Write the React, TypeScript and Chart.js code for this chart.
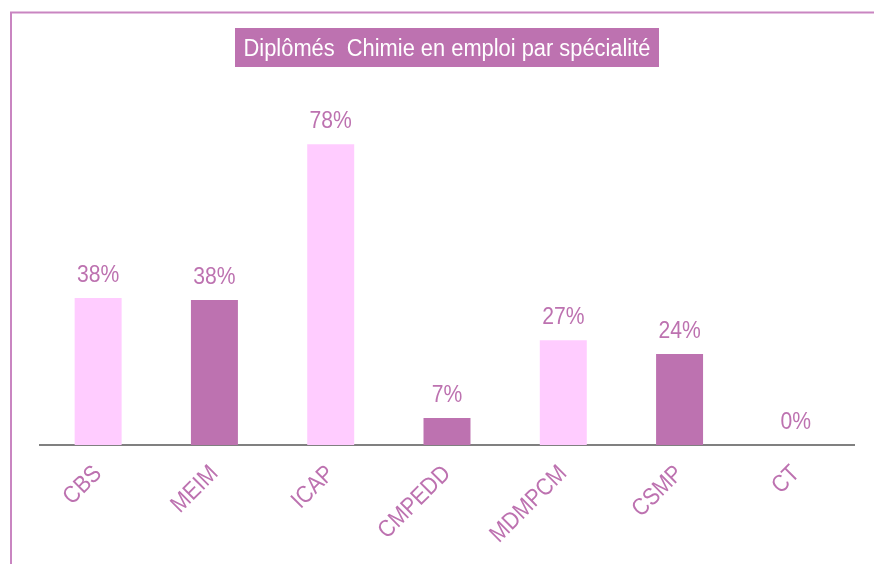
import React, { useEffect, useRef } from "react";
import { Chart, registerables } from "chart.js";

Chart.register(...registerables);

const categories = ["CBS", "MEIM", "ICAP", "CMPEDD", "MDMPCM", "CSMP", "CT"];
const values = [38.1, 37.6, 78.0, 7.0, 27.2, 23.6, 0];
const barColors = ["#FFCCFF", "#BD72B0", "#FFCCFF", "#BD72B0", "#FFCCFF", "#BD72B0", "#FFCCFF"];
const title = "Diplômés  Chimie en emploi par spécialité";

const W = 874;
const H = 564;
const FONT = '"Liberation Sans", Arial, sans-serif';
const TEXT_COLOR = "#BD72B0";

const decorPlugin = {
  id: "decor",
  beforeDraw(chart: any) {
    const ctx = chart.ctx;
    ctx.save();
    ctx.fillStyle = "#ffffff";
    ctx.fillRect(0, 0, W, H);
    // frame lines
    ctx.strokeStyle = "#C985C1";
    ctx.lineWidth = 2;
    ctx.beginPath();
    ctx.moveTo(11, H);
    ctx.lineTo(11, 12.5);
    ctx.lineTo(W, 12.5);
    ctx.stroke();
    // title box
    ctx.fillStyle = "#BD72B0";
    ctx.fillRect(235, 28, 424, 39);
    ctx.fillStyle = "#ffffff";
    ctx.font = `23px ${FONT}`;
    ctx.textAlign = "center";
    ctx.textBaseline = "alphabetic";
    ctx.translate(447, 56);
    ctx.scale(0.95, 1);
    ctx.fillText(title, 0, 0);
    ctx.restore();
  },
  afterDatasetsDraw(chart: any) {
    const ctx = chart.ctx;
    const meta = chart.getDatasetMeta(0);
    ctx.save();
    ctx.fillStyle = TEXT_COLOR;
    ctx.font = `24px ${FONT}`;
    ctx.textAlign = "center";
    ctx.textBaseline = "alphabetic";
    meta.data.forEach((bar: any, i: number) => {
      const v = values[i];
      ctx.save();
      ctx.translate(bar.x, bar.y - 16);
      ctx.scale(0.88, 1);
      ctx.fillText(Math.round(v) + "%", 0, 0);
      ctx.restore();
    });
    // x tick labels
    const xs = chart.scales.x;
    ctx.textAlign = "right";
    ctx.textBaseline = "middle";
    categories.forEach((c, i) => {
      const x = xs.getPixelForTick(i);
      ctx.save();
      ctx.translate(x, 470);
      ctx.rotate(-Math.PI / 4);
      ctx.scale(0.88, 1);
      ctx.fillText(c, 0, 0);
      ctx.restore();
    });
    ctx.restore();
  },
};

export default function App() {
  const ref = useRef<HTMLCanvasElement>(null);
  useEffect(() => {
    if (!ref.current) return;
    const chart = new Chart(ref.current, {
      type: "bar",
      data: {
        labels: categories,
        datasets: [
          {
            data: values,
            backgroundColor: barColors,
            borderWidth: 0,
            categoryPercentage: 1,
            barPercentage: 0.404,
          },
        ],
      },
      options: {
        responsive: false,
        animation: false,
        devicePixelRatio: 1,
        layout: { padding: { left: 40, right: 20, top: 98, bottom: 0 } },
        plugins: { legend: { display: false }, tooltip: { enabled: false }, title: { display: false } },
        scales: {
          x: {
            grid: { display: false },
            border: { display: true, color: "#808080", width: 2 },
            ticks: { display: false },
            afterFit: (scale: any) => {
              scale.height = H - 445;
            },
          },
          y: { display: false, min: 0, max: 90 },
        },
      },
      plugins: [decorPlugin],
    });
    return () => chart.destroy();
  }, []);
  return (
    <div style={{ position: "fixed", left: 0, top: 0, width: W, height: H, background: "#fff" }}>
      <canvas ref={ref} width={W} height={H} style={{ display: "block" }} />
    </div>
  );
}
